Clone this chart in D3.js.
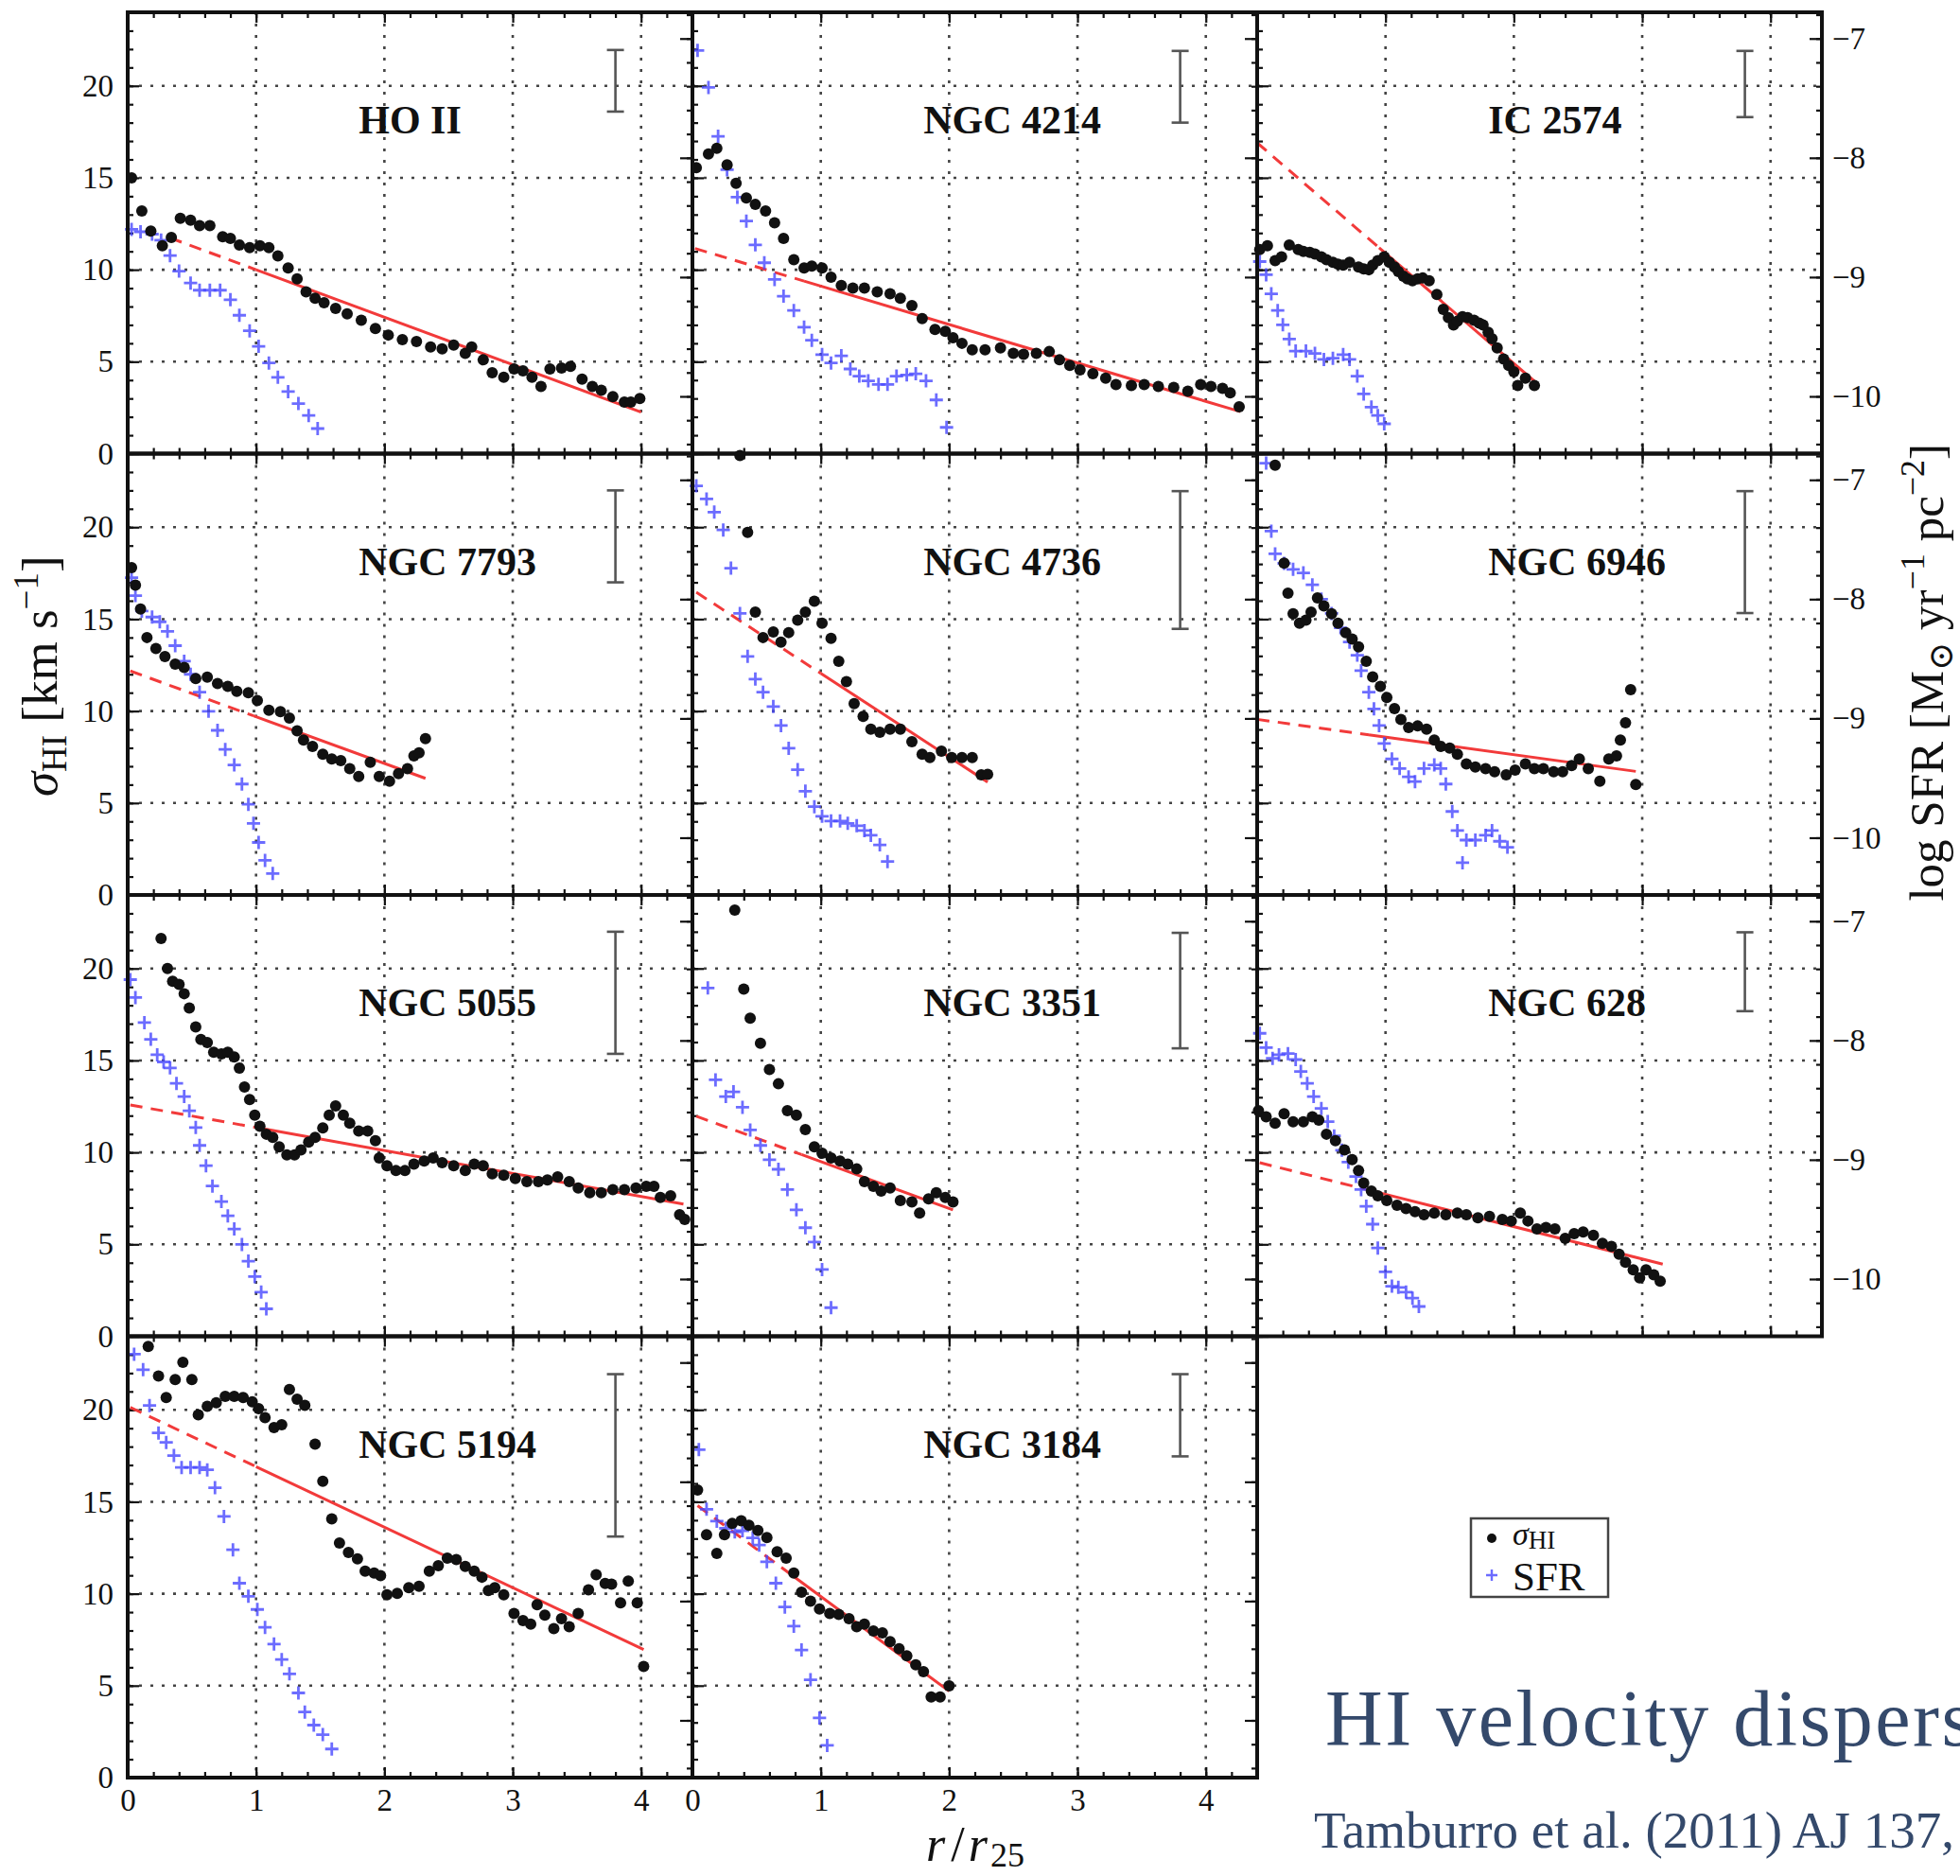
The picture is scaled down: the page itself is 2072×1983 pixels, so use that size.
<!DOCTYPE html>
<html>
<head>
<meta charset="utf-8">
<script src="https://cdn.jsdelivr.net/npm/d3@7"></script>
<style>
  body { margin: 0; background: #fff; overflow: hidden; }
  svg { display: block; }
</style>
</head>
<body>
<div class="chart"></div>
<script>
// galaxy names, row by row
const galaxies = ["HO II", "NGC 4214", "IC 2574", "NGC 7793", "NGC 4736", "NGC 6946",
                  "NGC 5055", "NGC 3351", "NGC 628", "NGC 5194", "NGC 3184"]

// sigma_HI [km/s] vs r/r25
const hoII_sigma = [[0.03,15.0],[0.11,13.2],[0.18,12.1],[0.27,11.3],[0.34,11.75],[0.41,12.8],[0.49,12.7],[0.56,12.4],[0.64,12.4],[0.74,11.8],[0.80,11.7],[0.87,11.35],[0.95,11.2],[1.03,11.3],[1.10,11.2],[1.17,10.75],[1.25,10.1],[1.32,9.5],[1.39,8.8],[1.46,8.45],[1.53,8.2],[1.62,7.9],[1.71,7.6],[1.82,7.25],[1.93,6.8],[2.03,6.45],[2.14,6.2],[2.25,6.1],[2.36,5.8],[2.45,5.7],[2.54,5.9],[2.63,5.45],[2.68,5.8],[2.77,5.1],[2.84,4.4],[2.93,4.15],[3.01,4.6],[3.08,4.5],[3.15,4.15],[3.22,3.65],[3.29,4.6],[3.38,4.65],[3.45,4.75],[3.54,4.05],[3.62,3.65],[3.69,3.45],[3.78,3.1],[3.87,2.8],[3.92,2.8],[3.99,3.0]]
const ngc4214_sigma = [[0.03,15.55],[0.125,16.3],[0.19,16.6],[0.27,15.7],[0.34,14.7],[0.42,13.9],[0.49,13.55],[0.57,13.2],[0.64,12.55],[0.71,11.7],[0.79,10.55],[0.87,10.1],[0.93,10.2],[1.01,10.1],[1.08,9.6],[1.16,9.15],[1.25,9.0],[1.34,9.0],[1.44,8.8],[1.54,8.7],[1.62,8.45],[1.71,8.05],[1.79,7.35],[1.89,6.75],[1.97,6.65],[2.03,6.3],[2.10,6.0],[2.18,5.65],[2.28,5.65],[2.40,5.75],[2.50,5.45],[2.58,5.4],[2.68,5.45],[2.78,5.55],[2.86,5.1],[2.94,4.8],[3.02,4.55],[3.12,4.35],[3.22,4.1],[3.30,3.75],[3.42,3.7],[3.52,3.75],[3.63,3.65],[3.75,3.6],[3.86,3.4],[3.96,3.75],[4.04,3.65],[4.13,3.55],[4.19,3.3],[4.26,2.55]]
const ic2574_sigma = [[0.02,11.1],[0.08,11.3],[0.14,10.5],[0.19,10.7],[0.25,11.35],[0.32,11.1],[0.36,11.0],[0.41,10.95],[0.45,10.85],[0.50,10.7],[0.54,10.55],[0.59,10.4],[0.63,10.3],[0.67,10.25],[0.72,10.4],[0.79,10.15],[0.83,10.05],[0.87,10.0],[0.90,10.25],[0.94,10.5],[0.99,10.7],[1.03,10.4],[1.07,10.15],[1.10,9.9],[1.14,9.65],[1.17,9.5],[1.21,9.4],[1.25,9.5],[1.29,9.55],[1.34,9.4],[1.40,8.65],[1.45,7.85],[1.49,7.4],[1.53,7.0],[1.56,7.2],[1.60,7.45],[1.64,7.4],[1.69,7.25],[1.73,7.1],[1.76,7.0],[1.80,6.6],[1.83,6.25],[1.87,5.75],[1.92,5.15],[1.96,4.8],[2.00,4.45],[2.03,3.7],[2.09,4.1],[2.16,3.7]]
const ngc7793_sigma = [[0.03,17.8],[0.06,16.85],[0.10,15.55],[0.15,14.0],[0.22,13.4],[0.29,12.97],[0.37,12.55],[0.44,12.37],[0.53,11.77],[0.62,11.85],[0.70,11.5],[0.78,11.34],[0.85,11.08],[0.94,11.0],[1.01,10.57],[1.10,10.05],[1.19,9.97],[1.26,9.62],[1.32,8.93],[1.37,8.42],[1.44,8.08],[1.52,7.65],[1.59,7.39],[1.66,7.3],[1.73,6.87],[1.80,6.44],[1.89,7.22],[1.96,6.44],[2.04,6.19],[2.11,6.6],[2.18,6.87],[2.23,7.56],[2.27,7.73],[2.32,8.5]]
const ngc4736_sigma = [[0.37,23.9],[0.43,19.72],[0.49,15.38],[0.55,14.0],[0.63,14.3],[0.69,13.75],[0.75,14.27],[0.82,14.95],[0.88,15.38],[0.95,15.98],[1.01,14.78],[1.08,13.95],[1.14,12.71],[1.20,11.6],[1.26,10.4],[1.33,9.71],[1.39,9.02],[1.46,8.85],[1.54,9.02],[1.62,9.02],[1.71,8.33],[1.79,7.65],[1.85,7.47],[1.94,7.82],[2.02,7.47],[2.10,7.47],[2.18,7.47],[2.25,6.53],[2.30,6.56]]
const ngc6946_sigma = [[0.14,23.37],[0.21,18.04],[0.24,16.41],[0.28,15.29],[0.33,14.78],[0.38,14.95],[0.42,15.38],[0.47,16.15],[0.52,15.72],[0.58,15.29],[0.63,14.78],[0.69,14.26],[0.74,13.92],[0.79,13.49],[0.85,12.71],[0.90,11.86],[0.96,11.34],[1.01,10.74],[1.07,10.14],[1.12,9.54],[1.18,9.11],[1.25,9.19],[1.32,9.02],[1.38,8.42],[1.43,8.08],[1.50,7.99],[1.56,7.65],[1.63,7.13],[1.70,6.96],[1.78,6.87],[1.85,6.7],[1.94,6.53],[2.01,6.79],[2.09,7.13],[2.16,6.87],[2.23,6.87],[2.31,6.7],[2.38,6.7],[2.45,7.04],[2.51,7.39],[2.58,6.87],[2.67,6.19],[2.74,7.39],[2.80,7.56],[2.83,8.42],[2.87,9.36],[2.91,11.17],[2.95,6.01]]
const ngc5055_sigma = [[0.26,21.63],[0.31,20.0],[0.35,19.31],[0.40,19.14],[0.44,18.63],[0.48,17.85],[0.53,16.82],[0.57,16.14],[0.62,15.97],[0.67,15.45],[0.73,15.36],[0.78,15.45],[0.83,15.19],[0.87,14.59],[0.91,13.56],[0.95,12.88],[0.99,12.02],[1.03,11.42],[1.08,10.99],[1.13,10.82],[1.18,10.3],[1.24,9.87],[1.30,9.87],[1.35,10.13],[1.41,10.56],[1.46,10.82],[1.52,11.33],[1.57,12.02],[1.62,12.53],[1.68,12.02],[1.73,11.59],[1.80,11.16],[1.87,11.16],[1.93,10.64],[1.96,9.7],[2.02,9.27],[2.09,9.01],[2.16,9.01],[2.23,9.36],[2.31,9.53],[2.38,9.7],[2.45,9.44],[2.54,9.27],[2.63,9.01],[2.70,9.36],[2.77,9.27],[2.84,8.84],[2.93,8.76],[3.02,8.58],[3.11,8.41],[3.20,8.41],[3.27,8.5],[3.35,8.67],[3.44,8.41],[3.51,8.07],[3.60,7.81],[3.69,7.81],[3.78,7.98],[3.87,7.98],[3.96,8.07],[4.04,8.15],[4.10,8.15],[4.15,7.55],[4.23,7.64],[4.30,6.61],[4.34,6.35]]
const ngc3351_sigma = [[0.33,23.18],[0.40,18.88],[0.45,17.3],[0.53,15.93],[0.60,14.51],[0.67,13.73],[0.74,12.27],[0.81,12.02],[0.88,11.24],[0.95,10.3],[1.01,9.96],[1.08,9.7],[1.15,9.53],[1.21,9.36],[1.28,9.1],[1.34,8.41],[1.41,8.15],[1.47,7.9],[1.54,8.07],[1.62,7.38],[1.71,7.3],[1.77,6.7],[1.84,7.47],[1.90,7.81],[1.97,7.55],[2.03,7.3]]
const ngc628_sigma = [[0.01,12.27],[0.07,11.93],[0.14,11.59],[0.21,12.1],[0.28,11.67],[0.36,11.67],[0.43,11.93],[0.48,11.76],[0.54,10.99],[0.61,10.64],[0.68,10.13],[0.74,9.61],[0.79,9.01],[0.83,8.33],[0.89,7.9],[0.94,7.64],[1.01,7.38],[1.09,7.12],[1.16,6.95],[1.23,6.78],[1.30,6.61],[1.38,6.7],[1.47,6.61],[1.56,6.7],[1.63,6.61],[1.72,6.44],[1.81,6.52],[1.91,6.35],[1.98,6.27],[2.05,6.7],[2.11,6.27],[2.18,5.84],[2.25,5.92],[2.32,5.84],[2.40,5.32],[2.47,5.58],[2.54,5.67],[2.62,5.49],[2.69,5.06],[2.76,4.89],[2.82,4.46],[2.87,4.03],[2.93,3.61],[2.98,3.18],[3.03,3.61],[3.09,3.35],[3.14,3.0]]
const ngc5194_sigma = [[0.16,23.45],[0.24,21.84],[0.30,20.67],[0.37,21.65],[0.43,22.59],[0.50,21.65],[0.55,19.73],[0.62,20.19],[0.69,20.38],[0.76,20.73],[0.83,20.73],[0.90,20.67],[0.97,20.44],[1.02,20.06],[1.07,19.58],[1.14,19.04],[1.20,19.19],[1.26,21.11],[1.32,20.58],[1.38,20.25],[1.46,18.14],[1.52,16.12],[1.59,14.07],[1.65,12.76],[1.72,12.25],[1.79,11.9],[1.85,11.23],[1.92,11.13],[1.97,10.98],[2.02,9.94],[2.10,10.02],[2.19,10.33],[2.27,10.4],[2.35,11.23],[2.42,11.52],[2.49,11.94],[2.56,11.86],[2.63,11.48],[2.70,11.23],[2.76,10.9],[2.81,10.17],[2.86,10.33],[2.93,9.94],[3.01,8.93],[3.08,8.54],[3.14,8.35],[3.19,9.4],[3.25,8.83],[3.32,8.1],[3.38,8.64],[3.44,8.21],[3.51,8.93],[3.59,10.21],[3.65,11.04],[3.72,10.56],[3.77,10.52],[3.84,9.5],[3.90,10.69],[3.97,9.5],[4.02,6.05]]
const ngc3184_sigma = [[0.04,15.64],[0.11,13.21],[0.19,12.19],[0.25,13.21],[0.31,13.82],[0.38,13.97],[0.44,13.72],[0.51,13.44],[0.58,13.05],[0.66,12.28],[0.73,11.94],[0.79,11.13],[0.85,10.08],[0.92,9.6],[0.99,9.17],[1.07,8.93],[1.14,8.87],[1.22,8.64],[1.28,8.21],[1.34,8.35],[1.41,7.97],[1.48,7.87],[1.54,7.39],[1.61,7.01],[1.67,6.62],[1.74,6.14],[1.80,5.76],[1.86,4.38],[1.93,4.38],[2.00,4.99]]

// log SFR [Msun / yr / pc^2] vs r/r25
const hoII_sfr = [[0.03,-8.60],[0.10,-8.62],[0.19,-8.64],[0.26,-8.69],[0.33,-8.82],[0.40,-8.95],[0.49,-9.05],[0.56,-9.11],[0.64,-9.11],[0.72,-9.11],[0.80,-9.19],[0.87,-9.32],[0.95,-9.45],[1.02,-9.58],[1.10,-9.72],[1.17,-9.84],[1.25,-9.96],[1.33,-10.06],[1.41,-10.16],[1.48,-10.27]]
const ngc4214_sfr = [[0.04,-7.10],[0.125,-7.41],[0.20,-7.82],[0.27,-8.10],[0.35,-8.33],[0.42,-8.53],[0.49,-8.73],[0.56,-8.88],[0.64,-9.02],[0.71,-9.16],[0.79,-9.28],[0.87,-9.42],[0.93,-9.53],[1.01,-9.65],[1.08,-9.72],[1.16,-9.66],[1.23,-9.77],[1.30,-9.83],[1.37,-9.87],[1.45,-9.90],[1.52,-9.90],[1.59,-9.83],[1.67,-9.82],[1.74,-9.81],[1.82,-9.87],[1.90,-10.03],[1.98,-10.26]]
const ic2574_sfr = [[0.02,-8.87],[0.07,-8.98],[0.11,-9.14],[0.16,-9.28],[0.20,-9.40],[0.25,-9.52],[0.30,-9.62],[0.38,-9.62],[0.45,-9.64],[0.52,-9.69],[0.59,-9.68],[0.67,-9.65],[0.72,-9.69],[0.78,-9.83],[0.83,-9.98],[0.89,-10.09],[0.94,-10.16],[0.99,-10.23]]
const ngc7793_sfr = [[0.03,-7.82],[0.06,-7.97],[0.11,-8.10],[0.19,-8.15],[0.25,-8.19],[0.31,-8.27],[0.37,-8.39],[0.44,-8.52],[0.49,-8.63],[0.56,-8.78],[0.63,-8.94],[0.70,-9.10],[0.76,-9.26],[0.83,-9.39],[0.89,-9.55],[0.94,-9.72],[0.98,-9.88],[1.02,-10.04],[1.07,-10.19],[1.13,-10.30]]
const ngc4736_sfr = [[0.03,-7.05],[0.11,-7.16],[0.17,-7.27],[0.24,-7.42],[0.30,-7.74],[0.37,-8.12],[0.43,-8.48],[0.49,-8.67],[0.55,-8.78],[0.63,-8.90],[0.69,-9.06],[0.75,-9.25],[0.82,-9.43],[0.88,-9.61],[0.95,-9.74],[1.01,-9.82],[1.08,-9.86],[1.15,-9.86],[1.21,-9.88],[1.28,-9.90],[1.34,-9.94],[1.39,-9.98],[1.46,-10.06],[1.52,-10.20]]
const ngc6946_sfr = [[0.07,-6.86],[0.11,-7.43],[0.14,-7.62],[0.21,-7.70],[0.28,-7.75],[0.36,-7.78],[0.43,-7.88],[0.50,-8.00],[0.58,-8.12],[0.65,-8.24],[0.72,-8.36],[0.78,-8.47],[0.81,-8.60],[0.87,-8.78],[0.91,-8.92],[0.95,-9.06],[0.99,-9.21],[1.05,-9.34],[1.11,-9.42],[1.18,-9.49],[1.23,-9.53],[1.30,-9.42],[1.38,-9.39],[1.43,-9.42],[1.47,-9.55],[1.52,-9.78],[1.56,-9.94],[1.60,-10.21],[1.63,-10.02],[1.70,-10.02],[1.78,-9.98],[1.83,-9.94],[1.89,-10.03],[1.95,-10.08]]
const ngc5055_sfr = [[0.02,-7.49],[0.06,-7.64],[0.13,-7.85],[0.18,-7.99],[0.23,-8.12],[0.28,-8.18],[0.33,-8.23],[0.38,-8.36],[0.44,-8.47],[0.48,-8.59],[0.53,-8.73],[0.56,-8.88],[0.61,-9.05],[0.66,-9.22],[0.73,-9.35],[0.78,-9.47],[0.83,-9.58],[0.89,-9.71],[0.94,-9.85],[0.99,-9.98],[1.04,-10.11],[1.08,-10.25]]
const ngc3351_sfr = [[0.12,-7.56],[0.18,-8.33],[0.26,-8.47],[0.32,-8.43],[0.39,-8.56],[0.45,-8.75],[0.53,-8.88],[0.60,-9.00],[0.67,-9.08],[0.74,-9.25],[0.81,-9.42],[0.88,-9.57],[0.95,-9.69],[1.01,-9.92],[1.08,-10.24]]
const ngc628_sfr = [[0.02,-7.94],[0.07,-8.06],[0.12,-8.15],[0.17,-8.12],[0.24,-8.11],[0.30,-8.16],[0.34,-8.26],[0.39,-8.36],[0.44,-8.47],[0.50,-8.57],[0.55,-8.68],[0.60,-8.80],[0.66,-8.92],[0.71,-9.02],[0.77,-9.14],[0.81,-9.25],[0.85,-9.39],[0.90,-9.54],[0.94,-9.74],[1.00,-9.94],[1.05,-10.06],[1.10,-10.07],[1.16,-10.11],[1.21,-10.16],[1.26,-10.23]]
const ngc5194_sfr = [[0.05,-6.93],[0.12,-7.06],[0.17,-7.36],[0.24,-7.59],[0.30,-7.67],[0.36,-7.78],[0.42,-7.88],[0.49,-7.88],[0.56,-7.88],[0.62,-7.90],[0.68,-8.05],[0.75,-8.29],[0.82,-8.57],[0.87,-8.85],[0.94,-8.96],[1.01,-9.07],[1.07,-9.22],[1.14,-9.36],[1.20,-9.49],[1.26,-9.61],[1.33,-9.77],[1.38,-9.93],[1.45,-10.04],[1.52,-10.12],[1.59,-10.24]]
const ngc3184_sfr = [[0.05,-7.73],[0.11,-8.23],[0.19,-8.33],[0.26,-8.39],[0.33,-8.42],[0.39,-8.41],[0.47,-8.47],[0.52,-8.53],[0.58,-8.67],[0.65,-8.85],[0.72,-9.05],[0.79,-9.21],[0.85,-9.41],[0.92,-9.66],[0.99,-9.98],[1.05,-10.21]]

const sigmaData = [hoII_sigma, ngc4214_sigma, ic2574_sigma, ngc7793_sigma, ngc4736_sigma, ngc6946_sigma,
                   ngc5055_sigma, ngc3351_sigma, ngc628_sigma, ngc5194_sigma, ngc3184_sigma]
const sfrData = [hoII_sfr, ngc4214_sfr, ic2574_sfr, ngc7793_sfr, ngc4736_sfr, ngc6946_sfr,
                 ngc5055_sfr, ngc3351_sfr, ngc628_sfr, ngc5194_sfr, ngc3184_sfr]

// linear fit: start, start of fitted range, end  (dashed before the middle point)
const fitPoints = [
  [[0.33,11.73],[1.0,10.0],[4.0,2.26]],
  [[0.02,11.16],[0.87,9.38],[4.27,2.28]],
  [[0.0,16.9],[0.95,11.2],[2.18,3.82]],
  [[0.02,12.18],[0.98,9.74],[2.32,6.34]],
  [[0.03,16.46],[1.0,12.05],[2.30,6.14]],
  [[0.0,9.55],[0.87,8.71],[2.95,6.72]],
  [[0.02,12.58],[0.98,11.38],[4.33,7.19]],
  [[0.03,11.97],[0.85,9.88],[2.03,6.87]],
  [[0.02,9.44],[0.83,8.02],[3.16,3.92]],
  [[0.02,20.13],[1.0,16.91],[4.02,6.97]],
  [[0.04,14.79],[0.76,11.09],[2.0,4.7]]
]

// typical error bar: r, low, high
const errBars = [[3.8,18.6,21.95],[3.8,18.0,21.9],[3.8,18.3,21.9],[3.8,17.0,22.0],[3.8,14.47,21.96],[3.8,15.33,21.96],
                 [3.8,15.36,22.0],[3.8,15.66,21.94],[3.8,17.68,21.97],[3.8,13.11,21.94],[3.8,17.47,21.94]]

const xTicks = [0, 1, 2, 3, 4]
const yTicks = [0, 5, 10, 15, 20]
const sfrTicks = [-7, -8, -9, -10]
const xGrid = [1, 2, 3, 4]
const yGrid = [5, 10, 15, 20]

const W = 2072, H = 1983
const marginLeft = 135, marginTop = 13
const panelW = 597, panelH = 466.5
const serif = "'Liberation Serif', 'DejaVu Serif', serif"

const svg = d3.select('.chart').append('svg')
    .attr('width', W)
    .attr('height', H)

// SCALES
const x = d3.scaleLinear().domain([0, 4.4]).range([0, panelW])
const y = d3.scaleLinear().domain([0, 24]).range([panelH, 0])
const ySfr = d3.scaleLinear().domain([-10.48, -6.78]).range([panelH, 0])

function styleAxis(g) {
    g.select('.domain').remove()
    g.selectAll('line').attr('stroke', '#111').attr('stroke-width', 2.2)
    g.selectAll('text').attr('font-family', serif).attr('font-size', 33).attr('fill', '#111')
}

const line = d3.line().x(d => x(d[0])).y(d => y(d[1]))

galaxies.forEach((name, i) => {
    const row = Math.floor(i / 3), col = i % 3
    const g = svg.append('g')
        .attr('transform', `translate(${marginLeft + col * panelW},${marginTop + row * panelH})`)

    // GRID
    const grid = g.append('g')
        .attr('stroke', '#444').attr('stroke-width', 2.6)
        .attr('stroke-dasharray', '3,9')
    grid.append('g').selectAll('line').data(xGrid).join('line')
        .attr('x1', d => x(d)).attr('x2', d => x(d))
        .attr('y1', 0).attr('y2', panelH)
    grid.append('g').selectAll('line').data(yGrid).join('line')
        .attr('x1', 0).attr('x2', panelW)
        .attr('y1', d => y(d)).attr('y2', d => y(d))

    // AXES (inward ticks on all sides)
    const showX = row === 3
    const showY = col === 0
    const showR = col === 2

    g.append('g').attr('transform', `translate(0,${panelH})`)
        .call(d3.axisBottom(x).tickValues(d3.range(0, 4.41, 0.2)).tickSize(-6).tickFormat(''))
        .call(styleAxis)
    g.append('g').attr('transform', `translate(0,${panelH})`)
        .call(d3.axisBottom(x).tickValues(xTicks).tickSize(-11).tickPadding(12)
              .tickFormat(showX ? d3.format('d') : ''))
        .call(styleAxis)
    g.append('g')
        .call(d3.axisTop(x).tickValues(d3.range(0, 4.41, 0.2)).tickSize(-6).tickFormat(''))
        .call(styleAxis)
    g.append('g')
        .call(d3.axisTop(x).tickValues(xTicks).tickSize(-11).tickFormat(''))
        .call(styleAxis)

    g.append('g')
        .call(d3.axisLeft(y).tickValues(d3.range(0, 24, 1)).tickSize(-6).tickFormat(''))
        .call(styleAxis)
    g.append('g')
        .call(d3.axisLeft(y).tickValues(yTicks).tickSize(-12).tickPadding(15)
              .tickFormat(showY ? d3.format('d') : ''))
        .call(styleAxis)

    g.append('g').attr('transform', `translate(${panelW},0)`)
        .call(d3.axisRight(ySfr).tickValues(d3.range(-10.4, -6.79, 0.2)).tickSize(-6).tickFormat(''))
        .call(styleAxis)
    g.append('g').attr('transform', `translate(${panelW},0)`)
        .call(d3.axisRight(ySfr).tickValues(sfrTicks).tickSize(-13).tickPadding(11)
              .tickFormat(showR ? d3.format('d') : ''))
        .call(styleAxis)

    // FIT LINE
    const fit = fitPoints[i]
    g.append('path').datum(fit.slice(0, 2))
        .attr('d', line).attr('fill', 'none')
        .attr('stroke', '#f23a3a').attr('stroke-width', 3)
        .attr('stroke-dasharray', '13,9')
    g.append('path').datum(fit.slice(1))
        .attr('d', line).attr('fill', 'none')
        .attr('stroke', '#f23a3a').attr('stroke-width', 3)

    // SFR CROSSES
    g.append('g').selectAll('path').data(sfrData[i]).join('path')
        .attr('transform', d => `translate(${x(d[0])},${ySfr(d[1])})`)
        .attr('d', 'M-7,0H7M0,-7V7')
        .attr('stroke', '#4848ff').attr('stroke-width', 2.8)
        .attr('opacity', 0.8)

    // SIGMA DOTS
    g.append('g').selectAll('circle').data(sigmaData[i]).join('circle')
        .attr('cx', d => x(d[0]))
        .attr('cy', d => y(d[1]))
        .attr('r', 6)
        .attr('fill', '#111')

    // ERROR BAR
    const e = errBars[i]
    const eb = g.append('g').attr('stroke', '#555').attr('stroke-width', 2.6)
    eb.append('line').attr('x1', x(e[0])).attr('x2', x(e[0])).attr('y1', y(e[1])).attr('y2', y(e[2]))
    eb.selectAll('.cap').data([e[1], e[2]]).join('line')
        .attr('x1', x(e[0]) - 9).attr('x2', x(e[0]) + 9)
        .attr('y1', d => y(d)).attr('y2', d => y(d))

    // PANEL LABEL
    g.append('text')
        .attr('x', x(1.8)).attr('y', y(17.4))
        .attr('font-family', serif).attr('font-size', 42).attr('font-weight', 'bold')
        .attr('fill', '#111')
        .text(name)

    // FRAME
    g.append('rect')
        .attr('width', panelW).attr('height', panelH)
        .attr('fill', 'none').attr('stroke', '#111').attr('stroke-width', 4)
})

// AXIS TITLES
const yl = svg.append('text')
    .attr('transform', `translate(60,${marginTop + 1.5 * panelH + 2}) rotate(-90)`)
    .attr('text-anchor', 'middle')
    .attr('font-family', serif).attr('font-size', 53).attr('fill', '#111')
yl.append('tspan').attr('font-style', 'italic').text('σ')
yl.append('tspan').attr('font-size', 37).attr('dy', 10).text('HI')
yl.append('tspan').attr('dy', -10).text(' [km s')
yl.append('tspan').attr('font-size', 37).attr('dy', -20).text('−1')
yl.append('tspan').attr('dy', 20).text(']')

const yr = svg.append('text')
    .attr('transform', `translate(2054,${marginTop + 1.5 * panelH - 2}) rotate(-90)`)
    .attr('text-anchor', 'middle')
    .attr('font-family', serif).attr('font-size', 51).attr('fill', '#111')
yr.append('tspan').text('log SFR [M')
yr.append('tspan').attr('font-size', 36).attr('dy', 10).text('⊙')
yr.append('tspan').attr('dy', -10).text(' yr')
yr.append('tspan').attr('font-size', 36).attr('dy', -20).text('−1')
yr.append('tspan').attr('dy', 20).text(' pc')
yr.append('tspan').attr('font-size', 36).attr('dy', -20).text('−2')
yr.append('tspan').attr('dy', 20).text(']')

const xl = svg.append('text')
    .attr('x', 1031).attr('y', 1967)
    .attr('text-anchor', 'middle')
    .attr('font-family', serif).attr('font-size', 52).attr('fill', '#111')
xl.append('tspan').attr('font-style', 'italic').text('r')
xl.append('tspan').attr('dx', 6).text('/')
xl.append('tspan').attr('dx', 4).attr('font-style', 'italic').text('r')
xl.append('tspan').attr('dx', 3).attr('font-size', 36).attr('dy', 6).text('25')

// LEGEND
const lg = svg.append('g').attr('transform', 'translate(1555,1605)')
lg.append('rect').attr('width', 145).attr('height', 83)
    .attr('fill', '#fff').attr('stroke', '#444').attr('stroke-width', 2.5)
lg.append('circle').attr('cx', 22).attr('cy', 21).attr('r', 5).attr('fill', '#111')
const lt = lg.append('text').attr('x', 44).attr('y', 28)
    .attr('font-family', serif).attr('font-size', 34).attr('fill', '#111')
lt.append('tspan').attr('font-style', 'italic').text('σ')
lt.append('tspan').attr('font-size', 27).attr('dy', 4).text('HI')
lg.append('path').attr('transform', 'translate(22,60)')
    .attr('d', 'M-6,0H6M0,-6V6').attr('stroke', '#4848ff').attr('stroke-width', 2.4).attr('opacity', 0.8)
lg.append('text').attr('x', 44).attr('y', 76)
    .attr('font-family', serif).attr('font-size', 43).attr('fill', '#111')
    .text('SFR')

// SLIDE TITLE (runs off the right edge, as in the slide)
svg.append('text')
    .attr('x', 1401).attr('y', 1845)
    .attr('font-family', serif).attr('font-size', 84).attr('letter-spacing', 2.5)
    .attr('fill', '#34496b')
    .text('HI velocity dispersion')
svg.append('text')
    .attr('x', 1389).attr('y', 1953)
    .attr('font-family', serif).attr('font-size', 55).attr('fill', '#34496b')
    .text('Tamburro et al. (2011) AJ 137, 4424')
</script>
</body>
</html>
